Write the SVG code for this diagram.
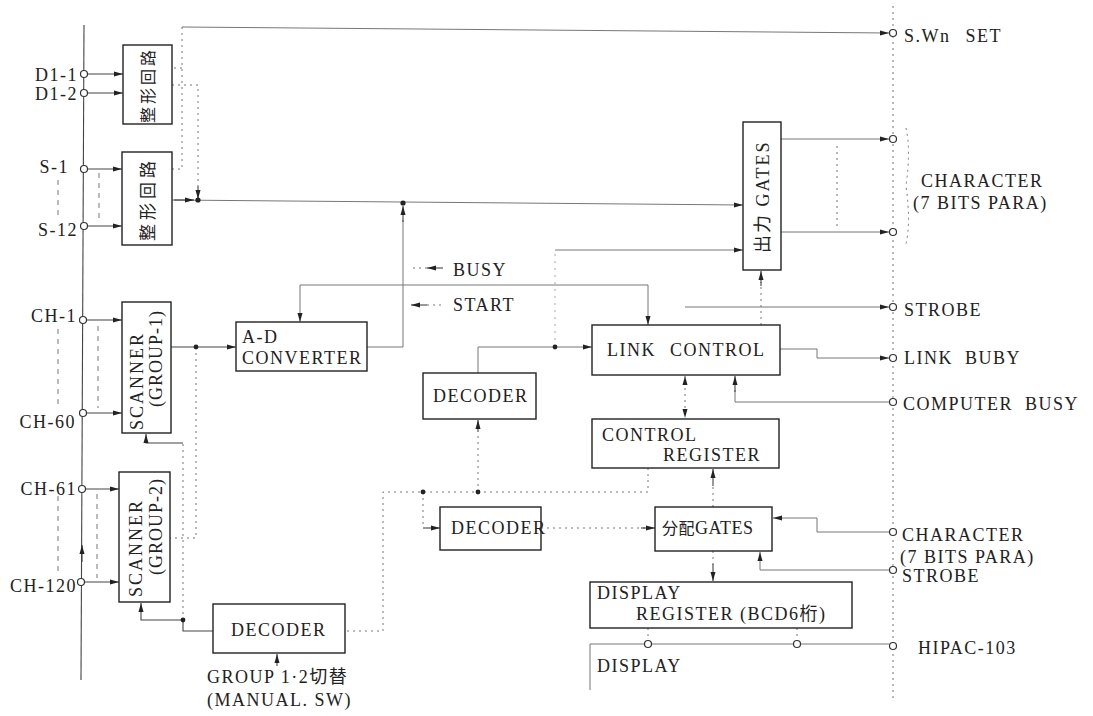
<svg xmlns="http://www.w3.org/2000/svg" width="1093" height="716" viewBox="0 0 1093 716">
<style>
text{font-family:"Liberation Serif","Noto Sans CJK JP",serif;fill:#222;font-size:18px;letter-spacing:1.5px}
.box{fill:#fff;stroke:#222;stroke-width:1.4}
.ln{fill:none;stroke:#444;stroke-width:1.1}
.lt{fill:none;stroke:#777;stroke-width:1}
.dt{fill:none;stroke:#777;stroke-width:1;stroke-dasharray:2 4}
.df{fill:none;stroke:#aaa;stroke-width:1;stroke-dasharray:2 5}
.ds{fill:none;stroke:#777;stroke-width:1;stroke-dasharray:5 5}
.term{fill:#fff;stroke:#333;stroke-width:1.2}
.dot{fill:#222}
.r{text-anchor:end}
.m{text-anchor:middle}
</style>
<defs>
<marker id="ah" markerUnits="userSpaceOnUse" markerWidth="9" markerHeight="6" refX="9" refY="3" orient="auto">
<path d="M0,0.5 L9,3 L0,5.5 z" fill="#222"/>
</marker>
<marker id="as" markerUnits="userSpaceOnUse" markerWidth="9" markerHeight="6" refX="0" refY="3" orient="auto">
<path d="M9,0.5 L0,3 L9,5.5 z" fill="#222"/>
</marker>
</defs>
<rect width="1093" height="716" fill="#fff"/>

<g id="connectors">
<path class="ln" d="M84,25 L81,680"/>
<path class="dt" d="M893,6 V700"/>
<path class="ln" d="M87,74 H123" marker-end="url(#ah)"/>
<path class="ln" d="M87,93 H123" marker-end="url(#ah)"/>
<path class="ln" d="M87,169 H122" marker-end="url(#ah)"/>
<path class="ln" d="M87,226 H122" marker-end="url(#ah)"/>
<path class="ln" d="M87,320 H122" marker-end="url(#ah)"/>
<path class="ln" d="M87,413 H122" marker-end="url(#ah)"/>
<path class="ln" d="M85,489 H119" marker-end="url(#ah)"/>
<path class="ln" d="M84,582 H119" marker-end="url(#ah)"/>
<path class="ln" d="M82,562 V545" marker-end="url(#ah)"/>
<path class="ds" d="M58,180 V216 M58,329 V406 M58,496 V576 M99,173 V222 M98,326 V408 M97,494 V578"/>
<path class="lt" d="M182,27 L889,33" marker-end="url(#ah)"/>
<path class="dt" d="M182,27 V169 H172 M182,68 H172"/>
<path class="dt" d="M172,85 H198 V186"/>
<path class="ln" d="M198,186 V199" marker-end="url(#ah)"/>
<path class="lt" d="M172,200 L743,205" marker-end="url(#ah)"/>
<path class="ln" d="M174,200 H194" marker-end="url(#ah)"/>
<path class="lt" d="M367,347 H403 V220"/>
<path class="ln" d="M403,222 V206" marker-end="url(#ah)"/>
<path class="df" d="M555,347 V250"/>
<path class="lt" d="M555,250 H743" marker-end="url(#ah)"/>
<path class="ln" d="M443,268 H427" marker-end="url(#ah)"/>
<path class="dt" d="M413,268 H427"/>
<path class="ln" d="M427,305 H411" marker-end="url(#ah)"/>
<path class="dt" d="M427,305 H442"/>
<path class="lt" d="M648,285 H300 V322" marker-end="url(#ah)"/>
<path class="lt" d="M648,285 V325" marker-end="url(#ah)"/>
<path class="ln" d="M171,347 H236" marker-end="url(#ah)"/>
<path class="dt" d="M196,347 V538 H170"/>
<path class="ln" d="M213,631 H183 V620"/>
<path class="dt" d="M183,620 V443"/>
<path class="ln" d="M183,443 H146 V434" marker-end="url(#ah)"/>
<path class="ln" d="M183,620 H141 V603" marker-end="url(#ah)"/>
<path class="ln" d="M277,666 V654" marker-end="url(#ah)"/>
<path class="dt" d="M648,468 V492 H383 V631 H345"/>
<path class="dt" d="M423,492 V528"/>
<path class="ln" d="M423,528 H440" marker-end="url(#ah)"/>
<path class="dt" d="M478,492 V432"/>
<path class="ln" d="M478,432 V420" marker-end="url(#ah)"/>
<path class="lt" d="M478,373 V347 H592" marker-end="url(#ah)"/>
<path class="dt" d="M541,528 H645"/>
<path class="ln" d="M641,528 H655" marker-end="url(#ah)"/>
<path class="dt" d="M713,507 V484"/>
<path class="ln" d="M713,486 V469" marker-end="url(#ah)"/>
<path class="dt" d="M713,551 V566"/>
<path class="ln" d="M713,564 V581" marker-end="url(#ah)"/>
<path class="dt" d="M685,376 V418" marker-start="url(#as)" marker-end="url(#ah)"/>
<path class="dt" d="M761,325 V282"/>
<path class="ln" d="M761,286 V271" marker-end="url(#ah)"/>
<path class="lt" d="M685,307 H889" marker-end="url(#ah)"/>
<path class="lt" d="M780,349 H817 V358 H889" marker-end="url(#ah)"/>
<path class="lt" d="M889,402 H735 V390"/>
<path class="ln" d="M735,392 V376" marker-end="url(#ah)"/>
<path class="lt" d="M781,139 H889" marker-end="url(#ah)"/>
<path class="lt" d="M781,232 H889" marker-end="url(#ah)"/>
<path class="dt" d="M837,146 V228"/>
<path class="dt" d="M906,128 Q911,150 906,186 Q911,222 906,244"/>
<path class="lt" d="M889,532 H817 V518 H773" marker-end="url(#ah)"/>
<path class="lt" d="M889,570 H760 V552" marker-end="url(#ah)"/>
<path class="dt" d="M648,628 V641 M797,628 V641"/>
<path class="lt" d="M590,690 V644 H889"/>
<circle class="dot" cx="198" cy="200" r="2.6"/>
<circle class="dot" cx="403" cy="203" r="2.6"/>
<circle class="dot" cx="196" cy="347" r="2.4"/>
<circle class="dot" cx="183" cy="620" r="2.4"/>
<circle class="dot" cx="555" cy="347" r="2.4"/>
<circle class="dot" cx="423" cy="492" r="2.4"/>
<circle class="dot" cx="478" cy="492" r="2.4"/>
</g>

<g id="terminals">
<circle class="term" cx="84" cy="74" r="3.5"/>
<circle class="term" cx="84" cy="93" r="3.5"/>
<circle class="term" cx="84" cy="169" r="3.5"/>
<circle class="term" cx="84" cy="226" r="3.5"/>
<circle class="term" cx="83" cy="320" r="3.5"/>
<circle class="term" cx="83" cy="413" r="3.5"/>
<circle class="term" cx="82" cy="489" r="3.5"/>
<circle class="term" cx="81" cy="582" r="3.5"/>
<circle class="term" cx="893" cy="33" r="3.5"/>
<circle class="term" cx="893" cy="139" r="3.5"/>
<circle class="term" cx="893" cy="232" r="3.5"/>
<circle class="term" cx="893" cy="307" r="3.5"/>
<circle class="term" cx="893" cy="358" r="3.5"/>
<circle class="term" cx="893" cy="402" r="3.5"/>
<circle class="term" cx="893" cy="532" r="3.5"/>
<circle class="term" cx="893" cy="570" r="3.5"/>
<circle class="term" cx="893" cy="646" r="3.5"/>
<circle class="term" cx="648" cy="644" r="3.5"/>
<circle class="term" cx="797" cy="644" r="3.5"/>
</g>

<g id="labels">
<text class="r" x="78" y="81">D1-1</text>
<text class="r" x="78" y="100">D1-2</text>
<text class="r" x="69" y="173">S-1</text>
<text class="r" x="78" y="236">S-12</text>
<text class="r" x="77" y="322">CH-1</text>
<text class="r" x="76" y="428">CH-60</text>
<text class="r" x="77" y="495">CH-61</text>
<text class="r" x="77" y="592">CH-120</text>
<text x="904" y="42" word-spacing="9">S.Wn SET</text>
<text x="921" y="187">CHARACTER</text>
<text x="913" y="209">(7 BITS  PARA)</text>
<text x="904" y="316">STROBE</text>
<text x="904" y="364" word-spacing="6">LINK BUBY</text>
<text x="903" y="410" word-spacing="6">COMPUTER BUSY</text>
<text x="902" y="541">CHARACTER</text>
<text x="900" y="563">(7 BITS  PARA)</text>
<text x="902" y="582">STROBE</text>
<text x="918" y="654">HIPAC-103</text>
<text x="597" y="672">DISPLAY</text>
<text x="453" y="276">BUSY</text>
<text x="453" y="311">START</text>
<text x="207" y="683">GROUP 1·2切替</text>
<text x="207" y="706">(MANUAL. SW)</text>
</g>

<g id="shaper1">
<rect class="box" x="123" y="45" width="49" height="79"/>
<text class="m" transform="translate(154,85) rotate(-90)" style="font-size:16px;letter-spacing:3px">整形回路</text>
</g>
<g id="shaper2">
<rect class="box" x="122" y="152" width="50" height="93"/>
<text class="m" transform="translate(154,199) rotate(-90)" style="font-size:17px;letter-spacing:4px">整形回路</text>
</g>
<g id="scanner1">
<rect class="box" x="122" y="302" width="49" height="131"/>
<text transform="translate(143,430) rotate(-90)" style="letter-spacing:2px">SCANNER</text>
<text transform="translate(162,407) rotate(-90)" style="letter-spacing:1px">(GROUP-1)</text>
</g>
<g id="scanner2">
<rect class="box" x="119" y="472" width="51" height="130"/>
<text transform="translate(142,597) rotate(-90)" style="letter-spacing:2px">SCANNER</text>
<text transform="translate(162,575) rotate(-90)" style="letter-spacing:1px">(GROUP-2)</text>
</g>
<g id="adconv">
<rect class="box" x="236" y="322" width="131" height="49"/>
<text x="242" y="343">A-D</text>
<text x="242" y="364">CONVERTER</text>
</g>
<g id="decoder-bottom">
<rect class="box" x="213" y="604" width="132" height="49"/>
<text x="231" y="636">DECODER</text>
</g>
<g id="decoder-mid">
<rect class="box" x="423" y="373" width="113" height="46"/>
<text x="433" y="402">DECODER</text>
</g>
<g id="decoder-low">
<rect class="box" x="440" y="507" width="101" height="43"/>
<text x="451" y="534">DECODER</text>
</g>
<g id="link-control">
<rect class="box" x="592" y="325" width="188" height="50"/>
<text x="607" y="356" word-spacing="8">LINK CONTROL</text>
</g>
<g id="control-register">
<rect class="box" x="592" y="419" width="187" height="49"/>
<text x="602" y="441">CONTROL</text>
<text x="663" y="461">REGISTER</text>
</g>
<g id="dist-gates">
<rect class="box" x="655" y="507" width="117" height="44"/>
<text x="662" y="534" style="letter-spacing:0.5px"><tspan style="font-size:16px">分配</tspan>GATES</text>
</g>
<g id="display-register">
<rect class="box" x="590" y="582" width="262" height="46"/>
<text x="597" y="599">DISPLAY</text>
<text x="636" y="620">REGISTER (BCD6桁)</text>
</g>
<g id="output-gates">
<rect class="box" x="743" y="122" width="38" height="148"/>
<text transform="translate(769,253) rotate(-90)" style="letter-spacing:2px">出力 GATES</text>
</g>
</svg>
